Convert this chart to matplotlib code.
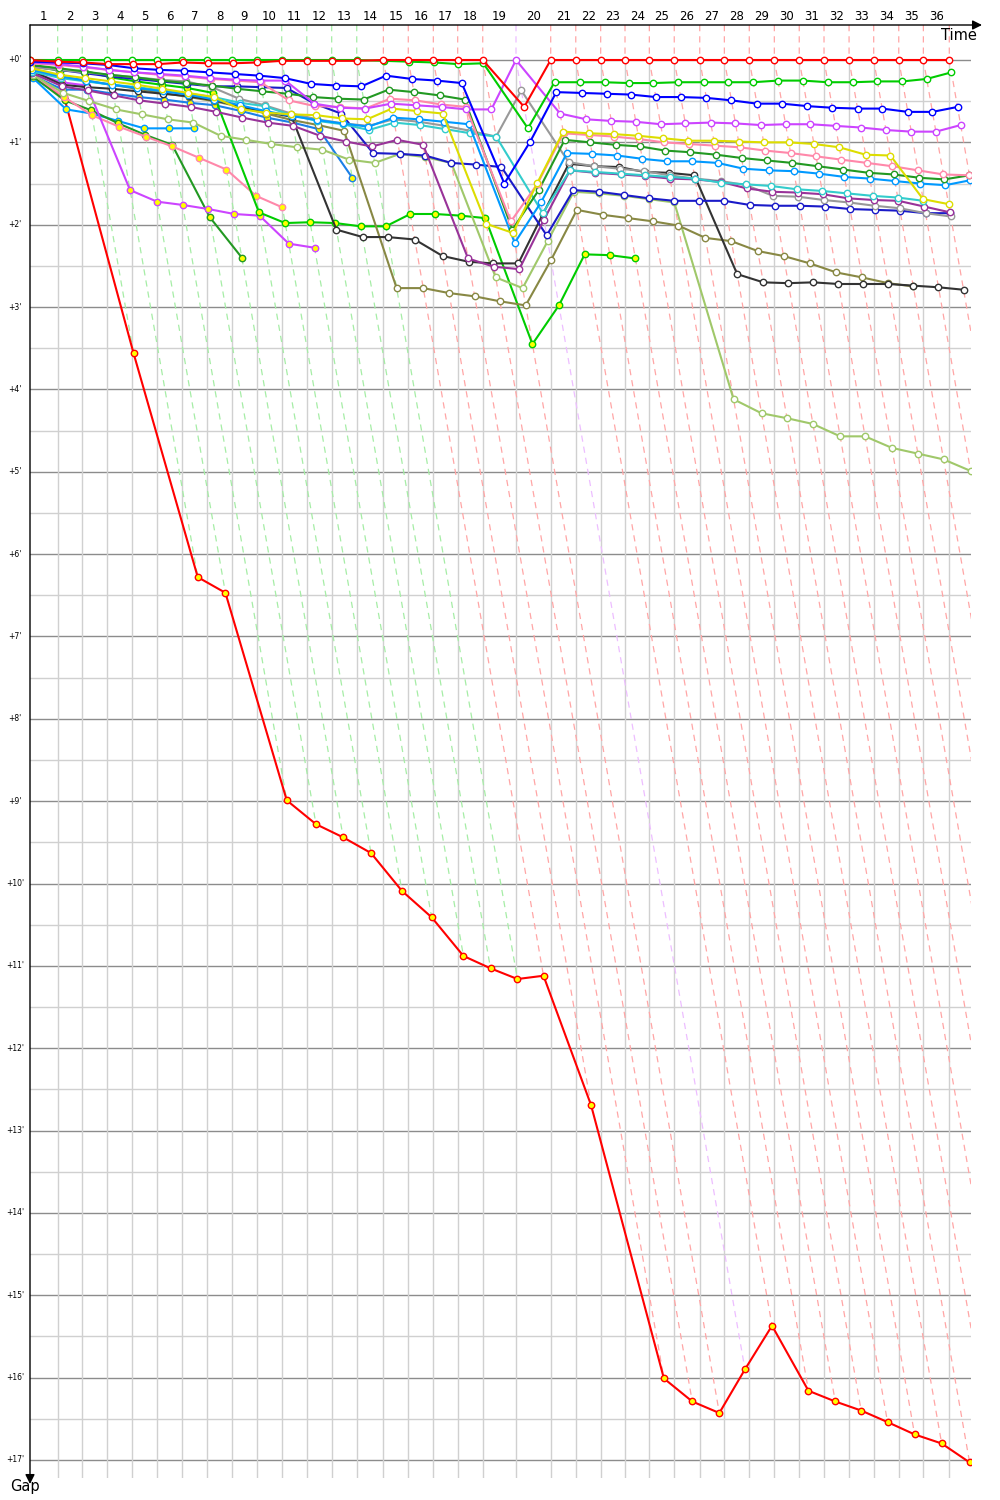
import matplotlib
matplotlib.use("Agg")
import matplotlib.pyplot as plt
import numpy as np
from matplotlib.colors import to_rgb

# leader's race time at the end of each lap, minutes (lap 0 = start)
lap_end = [0.00, 1.92, 3.63, 5.37, 7.10, 8.84, 10.58, 12.31, 14.05, 15.74,
           17.48, 19.22, 20.95, 22.69, 24.54, 26.27, 28.01, 29.70, 31.44,
           33.75, 36.16, 37.90, 39.63, 41.32, 43.01, 44.74, 46.51, 48.22,
           49.95, 51.69, 53.42, 55.14, 56.88, 58.59, 60.33, 62.04, 63.84]

# gap to leader (minutes) at each lap, starting from lap 0
red = [0.00, 0.02, 0.03, 0.05, 0.05, 0.05, 0.03, 0.04, 0.04, 0.03, 0.01, 0.01,
       0.01, 0.01, 0.00, 0.00, 0.00, 0.00, 0.00, 0.57, 0.00, 0.00, 0.00, 0.00,
       0.00, 0.00, 0.00, 0.00, 0.00, 0.00, 0.00, 0.00, 0.00, 0.00, 0.00, 0.00,
       0.00]
green = [0.00, 0.00, 0.00, 0.00, 0.00, 0.00, 0.00, 0.00, 0.00, 0.00, 0.00,
         0.00, 0.00, 0.00, 0.01, 0.02, 0.03, 0.05, 0.04, 0.83, 0.27, 0.27,
         0.27, 0.28, 0.28, 0.27, 0.27, 0.27, 0.27, 0.25, 0.25, 0.27, 0.27,
         0.26, 0.26, 0.23, 0.15]
blue = [0.02, 0.03, 0.04, 0.06, 0.10, 0.12, 0.13, 0.15, 0.17, 0.19, 0.22, 0.29,
        0.31, 0.32, 0.19, 0.23, 0.25, 0.28, 1.50, 0.99, 0.39, 0.40, 0.41, 0.42,
        0.45, 0.45, 0.46, 0.49, 0.53, 0.53, 0.56, 0.58, 0.59, 0.59, 0.63, 0.63,
        0.57]
magenta = [0.03, 0.05, 0.08, 0.12, 0.15, 0.17, 0.19, 0.22, 0.24, 0.25, 0.25,
           0.53, 0.58, 0.59, 0.53, 0.55, 0.57, 0.60, 0.60, 0.00, 0.65, 0.72,
           0.74, 0.75, 0.78, 0.77, 0.76, 0.77, 0.79, 0.78, 0.78, 0.80, 0.82,
           0.85, 0.87, 0.87, 0.79]
pink = [0.04, 0.06, 0.09, 0.12, 0.15, 0.18, 0.20, 0.23, 0.25, 0.27, 0.49, 0.56,
        0.57, 0.59, 0.47, 0.49, 0.54, 0.57, 1.96, 1.50, 0.89, 0.91, 0.93, 0.96,
        1.00, 1.02, 1.04, 1.06, 1.10, 1.13, 1.17, 1.21, 1.25, 1.29, 1.34, 1.39,
        1.40]
dark_green = [0.06, 0.10, 0.14, 0.18, 0.21, 0.25, 0.28, 0.31, 0.35, 0.38, 0.41,
              0.45, 0.47, 0.48, 0.36, 0.39, 0.43, 0.48, 2.06, 1.58, 0.97, 1.00,
              1.03, 1.05, 1.10, 1.12, 1.15, 1.19, 1.22, 1.25, 1.29, 1.33, 1.37,
              1.39, 1.43, 1.45, 1.40]
navy = [0.08, 0.12, 0.16, 0.20, 0.23, 0.26, 0.29, 0.32, 0.32, 0.33, 0.34, 0.53,
        0.65, 1.13, 1.14, 1.16, 1.25, 1.27, 1.30, 2.13, 1.58, 1.60, 1.64, 1.68,
        1.71, 1.71, 1.71, 1.76, 1.77, 1.77, 1.78, 1.81, 1.82, 1.83, 1.86, 1.86]
yellow = [0.10, 0.18, 0.22, 0.26, 0.30, 0.35, 0.40, 0.45, 0.60, 0.64, 0.66,
          0.67, 0.71, 0.72, 0.59, 0.62, 0.65, 1.99, 2.10, 1.49, 0.87, 0.89,
          0.90, 0.92, 0.95, 0.98, 0.98, 0.99, 1.00, 1.00, 1.02, 1.06, 1.15,
          1.16, 1.69, 1.75]
light_blue = [0.12, 0.20, 0.25, 0.30, 0.34, 0.38, 0.42, 0.48, 0.55, 0.62, 0.68,
              0.73, 0.77, 0.81, 0.70, 0.72, 0.75, 0.78, 2.22, 1.73, 1.13, 1.14,
              1.16, 1.20, 1.23, 1.23, 1.25, 1.32, 1.34, 1.35, 1.38, 1.42, 1.44,
              1.47, 1.50, 1.52, 1.46]
cyan = [0.14, 0.22, 0.26, 0.30, 0.33, 0.37, 0.41, 0.45, 0.52, 0.56, 0.67, 0.74,
        0.78, 0.85, 0.76, 0.79, 0.84, 0.89, 0.93, 1.86, 1.34, 1.36, 1.38, 1.40,
        1.42, 1.44, 1.49, 1.51, 1.53, 1.57, 1.59, 1.62, 1.65, 1.67, 1.71]
grey = [0.09, 0.12, 0.15, 0.18, 0.21, 0.24, 0.26, 0.33, 0.47, 0.55, 0.65, 0.72,
        0.77, 0.80, 0.72, 0.75, 0.80, 0.86, 0.93, 0.37, 1.24, 1.29, 1.32, 1.35,
        1.40, 1.44, 1.47, 1.52, 1.65, 1.66, 1.70, 1.73, 1.77, 1.80, 1.86, 1.90]
olive = [0.11, 0.20, 0.25, 0.30, 0.35, 0.40, 0.45, 0.50, 0.57, 0.65, 0.73, 0.79,
         0.86, 2.77, 2.77, 2.83, 2.87, 2.93, 2.98, 2.43, 1.82, 1.88, 1.92, 1.96,
         2.01, 2.16, 2.20, 2.32, 2.38, 2.47, 2.58, 2.64, 2.71, 2.75]
purple = [0.16, 0.32, 0.37, 0.43, 0.49, 0.53, 0.57, 0.63, 0.70, 0.76, 0.80,
          0.92, 0.99, 1.05, 0.97, 1.03, 2.41, 2.51, 2.54, 1.94, 1.34, 1.37,
          1.39, 1.41, 1.44, 1.45, 1.48, 1.56, 1.60, 1.61, 1.63, 1.68, 1.70,
          1.71, 1.78, 1.85]
light_olive = [0.18, 0.40, 0.50, 0.60, 0.66, 0.72, 0.76, 0.92, 0.97, 1.02, 1.06,
               1.09, 1.21, 1.25, 1.14, 1.18, 1.25, 2.64, 2.77, 2.20, 1.60, 1.62,
               1.65, 1.69, 1.73, 4.12, 4.29, 4.35, 4.42, 4.57, 4.57, 4.71, 4.78,
               4.85, 4.99]
black = [0.13, 0.30, 0.33, 0.35, 0.38, 0.41, 0.44, 0.49, 0.56, 0.63, 0.69, 2.06,
         2.15, 2.15, 2.18, 2.38, 2.45, 2.47, 2.47, 1.87, 1.26, 1.29, 1.30, 1.36,
         1.37, 1.40, 2.60, 2.70, 2.71, 2.70, 2.72, 2.72, 2.72, 2.74, 2.76, 2.79]

# second group (yellow markers)
lime_y = [0.07, 0.13, 0.13, 0.21, 0.26, 0.30, 0.34, 0.40, 1.85, 1.98, 1.97,
          1.98, 2.02, 2.02, 1.87, 1.87, 1.89, 1.92, 3.45, 2.98, 2.36, 2.37, 2.41]
magenta_y = [0.15, 0.27, 0.31, 1.58, 1.72, 1.76, 1.81, 1.87, 1.89, 2.23, 2.28]
pink_y = [0.17, 0.45, 0.67, 0.81, 0.93, 1.05, 1.19, 1.33, 1.65, 1.79]
dark_green_y = [0.20, 0.49, 0.61, 0.77, 0.91, 1.03, 1.91, 2.40]
light_blue_y = [0.22, 0.60, 0.65, 0.74, 0.83, 0.83, 0.83]
blue_y = [0.19, 0.36, 0.36, 0.41, 0.45, 0.48, 0.52, 0.55, 0.62, 0.70, 0.76,
          0.84, 1.43]
red_y = [0.21, 0.45, 3.56, 6.28, 6.47, 8.99, 9.28, 9.44, 9.63, 10.09, 10.41,
         10.88, 11.03, 11.16, 11.12, 12.69, 16.01, 16.29, 16.43, 15.90, 15.37,
         16.16, 16.29, 16.40, 16.54, 16.69, 16.80, 17.03]

# (gaps, colour, yellow marker fill); later entries drawn on top
series = [
    (red_y, "#ff0000", True),
    (blue_y, "#1a7fe6", True),
    (light_blue_y, "#0099ff", True),
    (dark_green_y, "#229922", True),
    (pink_y, "#ff88aa", True),
    (magenta_y, "#cc44ff", True),
    (lime_y, "#00cc00", True),
    (light_olive, "#a0c86a", False),
    (olive, "#888844", False),
    (black, "#333333", False),
    (navy, "#1a1ac8", False),
    (grey, "#999999", False),
    (purple, "#993399", False),
    (cyan, "#33cccc", False),
    (light_blue, "#0099ff", False),
    (dark_green, "#229922", False),
    (pink, "#ff88aa", False),
    (yellow, "#dddd00", False),
    (magenta, "#cc44ff", False),
    (blue, "#0000ff", False),
    (green, "#00cc00", False),
    (red, "#ff0000", False),
]

PX_X = 14.4    # pixels per minute along time
PX_Y = 82.35   # pixels per minute of gap
y_top = -(60 - 25) / PX_Y
y_bot = (1478 - 60) / PX_Y
x_right = (971 - 30) / PX_X

fig = plt.figure(figsize=(10, 15), dpi=100)
ax = fig.add_axes([0.030, 1 - 1478 / 1500, 0.941, (1478 - 25) / 1500])
ax.set_xlim(0, x_right)
ax.set_ylim(y_bot, y_top)
ax.axis("off")

# grid
for h in np.arange(0, 17.01, 0.5):
    major = float(h).is_integer()
    ax.plot([0, x_right], [h, h], color="#8c8c8c" if major else "#d0d0d0",
            lw=1.0, zorder=1)
for t in lap_end[1:]:
    ax.plot([t, t], [0, y_bot], color="#d0d0d0", lw=1.0, zorder=1)


def lighten(c, k=0.35):
    r, g, b = to_rgb(c)
    return (1 - k + k * r, 1 - k + k * g, 1 - k + k * b)


# lap lines: same lap for every car, coloured by that lap's leader
for n in range(1, len(lap_end)):
    on_lap = [(s[n], c) for s, c, _ in series if len(s) > n]
    lead_col = min(on_lap, key=lambda p: p[0])[1]
    end = red_y[n] if n < len(red_y) else y_bot
    t = lap_end[n]
    col = lighten(lead_col)
    ax.plot([t, t, t + end], [y_top, 0, end], color=col, lw=0.9,
            linestyle=(0, (5, 4)), zorder=2)

# cars
for gaps, col, yellow_fill in series:
    g = np.array(gaps)
    x = np.array(lap_end[:len(g)]) + g
    ax.plot(x, g, "-o", color=col, lw=1.5, ms=4.6, mew=1.0, mec=col,
            mfc="#ffff00" if yellow_fill else "white", zorder=3)

# lap numbers along the top
for n in range(1, len(lap_end)):
    ax.text((lap_end[n - 1] + lap_end[n]) / 2, (17 - 60) / PX_Y, str(n),
            ha="center", va="center", fontsize=8.5, clip_on=False)

# gap labels
for m in range(0, 18):
    ax.text((15 - 30) / PX_X, m, f"+{m}'", ha="center", va="center",
            fontsize=5.5, clip_on=False)

# axes arrows
ax.annotate("", xy=((982 - 30) / PX_X, y_top), xytext=(0, y_top),
            arrowprops=dict(arrowstyle="-|>", color="black", lw=1.0,
                            mutation_scale=14, shrinkA=0, shrinkB=0),
            annotation_clip=False)
ax.annotate("", xy=(0, (1484 - 60) / PX_Y), xytext=(0, y_top),
            arrowprops=dict(arrowstyle="-|>", color="black", lw=1.0,
                            mutation_scale=14, shrinkA=0, shrinkB=0),
            annotation_clip=False)
ax.text((977 - 30) / PX_X, (35 - 60) / PX_Y, "Time", ha="right", va="center",
        fontsize=10.5, clip_on=False)
ax.text((25 - 30) / PX_X, (1487 - 60) / PX_Y, "Gap", ha="center", va="center",
        fontsize=10.5, clip_on=False)

fig.savefig("out.png", dpi=100, facecolor="white")
